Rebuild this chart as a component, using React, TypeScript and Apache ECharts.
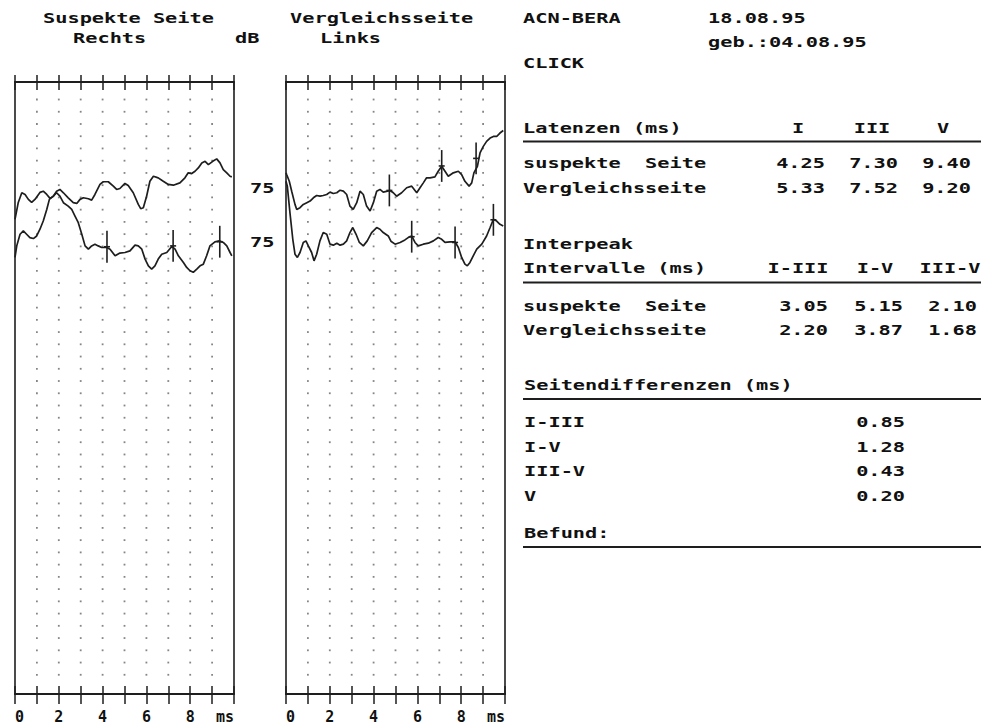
import React, { useEffect, useRef } from "react";
import * as echarts from "echarts";

// ---- Waveform data: [time ms, amplitude (divisions)] ----
const suspectUpper = [[0,38.78],[0.15,40.16],[0.31,40.95],[0.46,40.81],[0.61,40.41],[0.76,40.16],[0.91,40.41],[1.14,40.98],[1.29,41.08],[1.45,40.81],[1.60,40.49],[1.75,40.67],[1.90,41.08],[2.05,41.22],[2.21,40.95],[2.43,40.54],[2.66,40.14],[2.82,40.08],[2.97,40.41],[3.12,40.54],[3.35,40.46],[3.50,40.35],[3.65,40.81],[3.88,41.63],[4.03,41.85],[4.26,41.85],[4.49,41.49],[4.64,41.22],[4.79,41.30],[5.02,41.71],[5.17,41.54],[5.40,40.95],[5.63,40.00],[5.74,39.65],[5.86,39.73],[6.01,40.67],[6.16,41.89],[6.32,42.30],[6.54,42.17],[6.77,41.89],[7.00,41.63],[7.23,41.57],[7.53,41.76],[7.76,42.17],[7.91,42.58],[8.07,42.52],[8.22,42.71],[8.37,42.98],[8.53,43.39],[8.68,43.52],[8.83,43.25],[9.03,43.52],[9.21,43.72],[9.36,43.39],[9.51,42.85],[9.67,42.58],[9.82,42.30],[9.90,42.25]];
const suspectLower = [[0,35.67],[0.08,36.61],[0.23,37.56],[0.38,37.83],[0.53,37.56],[0.68,37.29],[0.84,37.21],[0.99,37.42],[1.14,37.97],[1.29,38.64],[1.45,39.59],[1.57,40.41],[1.75,40.67],[1.90,40.95],[2.05,40.67],[2.21,40.14],[2.43,39.86],[2.59,39.59],[2.74,39.05],[2.89,38.51],[3.05,37.56],[3.20,36.61],[3.35,36.34],[3.50,36.61],[3.65,36.75],[3.80,36.61],[3.96,36.48],[4.19,36.48],[4.34,36.34],[4.57,35.80],[4.79,36.02],[5.02,36.07],[5.25,36.20],[5.48,36.67],[5.63,36.61],[5.79,36.34],[5.94,35.53],[6.09,34.98],[6.24,34.72],[6.39,34.98],[6.54,35.53],[6.70,35.93],[6.93,36.07],[7.16,36.56],[7.31,36.34],[7.46,35.80],[7.69,35.26],[7.84,34.85],[7.99,34.58],[8.14,34.45],[8.30,34.72],[8.45,34.98],[8.60,35.12],[8.75,35.80],[8.90,36.61],[9.13,36.94],[9.33,37.02],[9.51,36.89],[9.67,36.61],[9.82,36.07],[9.90,35.80]];
const compareUpper = [[0,42.58],[0.03,42.44],[0.15,41.89],[0.26,41.08],[0.41,40.00],[0.49,39.59],[0.64,39.73],[0.79,40.00],[0.95,40.14],[1.10,40.27],[1.25,40.54],[1.40,40.73],[1.55,40.67],[1.70,40.73],[1.86,40.81],[2.01,41.00],[2.16,40.89],[2.32,40.95],[2.47,41.16],[2.62,41.08],[2.77,40.81],[2.92,39.86],[3.07,39.59],[3.23,40.14],[3.38,41.08],[3.53,40.81],[3.68,39.86],[3.84,39.46],[3.99,40.14],[4.14,41.08],[4.29,41.22],[4.44,41.00],[4.63,41.08],[4.75,41.14],[4.90,40.95],[5.05,40.67],[5.28,40.95],[5.51,41.36],[5.74,41.49],[5.97,40.95],[6.12,41.36],[6.27,41.76],[6.42,42.17],[6.58,42.17],[6.80,42.25],[6.95,42.71],[7.11,43.11],[7.26,42.71],[7.41,42.30],[7.64,42.58],[7.87,42.71],[8.02,42.44],[8.17,41.89],[8.36,41.49],[8.48,41.76],[8.58,42.58],[8.74,43.11],[8.86,44.20],[9.01,44.74],[9.16,45.15],[9.32,45.42],[9.47,45.55],[9.62,45.55],[9.77,45.83],[9.92,46.04]];
const compareLower = [[0,41.89],[0.06,41.49],[0.18,39.33],[0.31,37.15],[0.41,35.93],[0.52,35.67],[0.64,36.07],[0.79,36.89],[0.91,37.02],[1.02,36.61],[1.17,36.07],[1.28,35.39],[1.40,35.93],[1.55,37.02],[1.70,37.70],[1.86,37.56],[2.01,36.75],[2.16,36.67],[2.32,36.83],[2.47,36.67],[2.62,36.75],[2.77,37.02],[2.92,37.70],[3.05,38.11],[3.20,37.56],[3.35,36.89],[3.53,36.61],[3.71,37.02],[3.91,37.70],[4.14,38.11],[4.29,37.97],[4.44,37.70],[4.67,37.42],[4.79,36.99],[4.98,36.75],[5.21,36.89],[5.43,37.10],[5.58,37.29],[5.74,37.42],[5.89,36.89],[6.04,36.61],[6.27,36.75],[6.50,36.83],[6.73,37.02],[6.95,37.29],[7.11,37.15],[7.26,36.89],[7.49,36.94],[7.72,36.94],[7.87,36.48],[8.02,35.67],[8.17,35.12],[8.28,34.98],[8.40,35.26],[8.55,35.80],[8.71,36.34],[8.94,36.75],[9.16,37.42],[9.32,38.11],[9.47,38.78],[9.62,38.64],[9.77,38.37],[9.92,38.24]];

// Peak markers [ms, amplitude]
const suspectMarkers = [[4.20,36.54],[7.22,36.61],[9.35,36.95]];
const compareUpperMarkers = [[4.72,41.14],[7.11,43.14],[8.68,43.76]];
const compareLowerMarkers = [[5.74,37.36],[7.72,36.89],[9.47,38.74]];

// Axis tick labels (0..10 ms)
const timeTickLabels = ["0", "", "2", "", "4", "", "6", "", "8", "", "ms"];
const levelLabels = ["75", "75"];

// Table data
const latencyHeaders = ["I", "III", "V"];
const latencySuspect = [4.25, 7.30, 9.40];
const latencyCompare = [5.33, 7.52, 9.20];
const interpeakHeaders = ["I-III", "I-V", "III-V"];
const interpeakSuspect = [3.05, 5.15, 2.10];
const interpeakCompare = [2.20, 3.87, 1.68];
const diffLabels = ["I-III", "I-V", "III-V", "V"];
const diffValues = [0.85, 1.28, 0.43, 0.20];

const FONT = '"DejaVu Sans Mono", "Liberation Mono", monospace';
const INK = "#111";
const LINE = "#1e1e1e";

function txt(text: string, x: number, y: number, align: string = "left") {
  return {
    type: "text",
    x,
    y,
    scaleX: 1.45,
    silent: true,
    style: {
      text,
      fontFamily: FONT,
      fontSize: 14,
      fontWeight: "bold",
      fill: INK,
      align,
      textAlign: align,
      verticalAlign: "middle",
      textVerticalAlign: "middle",
    },
  };
}

function hline(x1: number, x2: number, y: number) {
  return {
    type: "line",
    silent: true,
    shape: { x1, y1: y, x2, y2: y },
    style: { stroke: LINE, lineWidth: 2 },
  };
}

function makeDots() {
  const pts: number[][] = [];
  for (let k = 0; k < 48; k++) {
    for (let c = 1; c <= 9; c++) pts.push([c, 1.57 + k]);
  }
  return pts;
}

function xAxes(gridIndex: number) {
  const base = {
    gridIndex,
    type: "value",
    min: 0,
    max: 10,
    interval: 1,
    splitLine: { show: false },
  };
  return [
    {
      ...base,
      position: "bottom",
      axisLine: { show: true, onZero: false, lineStyle: { color: LINE, width: 2 } },
      axisTick: { show: true, inside: true, length: 8, lineStyle: { color: LINE, width: 1.5 } },
      axisLabel: {
        show: true,
        margin: 15,
        fontFamily: FONT,
        fontSize: 15,
        fontWeight: "bold",
        color: INK,
        alignMinLabel: "left",
        alignMaxLabel: "right",
        formatter: (v: number) => timeTickLabels[Math.round(v)] ?? "",
      },
    },
    {
      ...base,
      position: "bottom",
      axisLine: { show: false },
      axisTick: { show: true, inside: false, length: 10, lineStyle: { color: LINE, width: 1.5 } },
      axisLabel: { show: false },
    },
    {
      ...base,
      position: "top",
      axisLine: { show: true, onZero: false, lineStyle: { color: LINE, width: 2 } },
      axisTick: { show: true, inside: true, length: 8, lineStyle: { color: LINE, width: 1.5 } },
      axisLabel: { show: false },
    },
    {
      ...base,
      position: "top",
      axisLine: { show: false },
      axisTick: { show: true, inside: false, length: 7, lineStyle: { color: LINE, width: 1.5 } },
      axisLabel: { show: false },
    },
  ];
}

function markerRender(params: any, api: any) {
  const x = api.value(0);
  const y = api.value(1);
  const top = api.coord([x, y + 1.3]);
  const bot = api.coord([x, y - 1.3]);
  const mid = api.coord([x, y]);
  return {
    type: "group",
    children: [
      { type: "line", shape: { x1: top[0], y1: top[1], x2: bot[0], y2: bot[1] }, style: { stroke: LINE, lineWidth: 1.6 } },
      { type: "line", shape: { x1: mid[0] - 3, y1: mid[1], x2: mid[0] + 3, y2: mid[1] }, style: { stroke: LINE, lineWidth: 1.6 } },
    ],
  };
}

function traceSeries(data: number[][], xi: number, yi: number) {
  return {
    type: "line",
    xAxisIndex: xi,
    yAxisIndex: yi,
    data,
    showSymbol: false,
    symbol: "none",
    smooth: false,
    lineStyle: { color: LINE, width: 1.7 },
    z: 3,
  };
}

function markerSeries(data: number[][], xi: number, yi: number) {
  return {
    type: "custom",
    xAxisIndex: xi,
    yAxisIndex: yi,
    data,
    renderItem: markerRender,
    z: 4,
  };
}

function dotSeries(xi: number, yi: number) {
  return {
    type: "scatter",
    xAxisIndex: xi,
    yAxisIndex: yi,
    data: makeDots(),
    symbol: "rect",
    symbolSize: 1.8,
    itemStyle: { color: "#666" },
    silent: true,
    z: 1,
  };
}

export default function App() {
  const ref = useRef<HTMLDivElement>(null);

  useEffect(() => {
    if (!ref.current) return;
    const chart = echarts.init(ref.current, null, { renderer: "svg" });

    const latCols = [825, 898, 971];
    const latHeadCols = [798, 872, 943];
    const ipCols = [828, 903, 977];
    const ipHeadCols = [798, 875, 950];

    const graphics: any[] = [
      txt("Suspekte Seite", 43, 18),
      txt("Rechts", 73, 38),
      txt("dB", 235, 38),
      txt("Vergleichsseite", 290, 18),
      txt("Links", 320, 38),
      txt(levelLabels[0], 250, 188),
      txt(levelLabels[1], 250, 242),
      txt("ACN-BERA", 523, 18),
      txt("18.08.95", 708, 18),
      txt("geb.:04.08.95", 708, 42),
      txt("CLICK", 523, 63),
      txt("Latenzen (ms)", 523, 128),
      hline(523, 981, 141.5),
      txt("suspekte  Seite", 523, 163),
      txt("Vergleichsseite", 523, 188),
      txt("Interpeak", 523, 244),
      txt("Intervalle (ms)", 523, 268),
      hline(523, 981, 282.5),
      txt("suspekte  Seite", 523, 306),
      txt("Vergleichsseite", 523, 330),
      txt("Seitendifferenzen (ms)", 524, 385),
      hline(523, 981, 399),
      txt("Befund:", 524, 533),
      hline(523, 981, 547),
    ];
    latencyHeaders.forEach((h, i) => graphics.push(txt(h, latHeadCols[i], 128, "center")));
    latencySuspect.forEach((v, i) => graphics.push(txt(v.toFixed(2), latCols[i], 163, "right")));
    latencyCompare.forEach((v, i) => graphics.push(txt(v.toFixed(2), latCols[i], 188, "right")));
    interpeakHeaders.forEach((h, i) => graphics.push(txt(h, ipHeadCols[i], 268, "center")));
    interpeakSuspect.forEach((v, i) => graphics.push(txt(v.toFixed(2), ipCols[i], 306, "right")));
    interpeakCompare.forEach((v, i) => graphics.push(txt(v.toFixed(2), ipCols[i], 330, "right")));
    diffLabels.forEach((l, i) => graphics.push(txt(l, 524, 422 + i * 24.7)));
    diffValues.forEach((v, i) => graphics.push(txt(v.toFixed(2), 905, 422 + i * 24.7, "right")));

    chart.setOption({
      animation: false,
      backgroundColor: "#ffffff",
      grid: [
        { left: 15, top: 82, width: 219, height: 615, show: true, borderColor: LINE, borderWidth: 1.6, backgroundColor: "transparent" },
        { left: 286, top: 82, width: 219, height: 615, show: true, borderColor: LINE, borderWidth: 1.6, backgroundColor: "transparent" },
      ],
      xAxis: [...xAxes(0), ...xAxes(1)],
      yAxis: [
        { gridIndex: 0, type: "value", min: 0, max: 50, show: false },
        { gridIndex: 1, type: "value", min: 0, max: 50, show: false },
      ],
      series: [
        dotSeries(0, 0),
        dotSeries(4, 1),
        traceSeries(suspectUpper, 0, 0),
        traceSeries(suspectLower, 0, 0),
        traceSeries(compareUpper, 4, 1),
        traceSeries(compareLower, 4, 1),
        markerSeries(suspectMarkers, 0, 0),
        markerSeries(compareUpperMarkers, 4, 1),
        markerSeries(compareLowerMarkers, 4, 1),
      ],
      graphic: graphics,
    });

    return () => chart.dispose();
  }, []);

  return (
    <div
      ref={ref}
      style={{ position: "fixed", left: 0, top: 0, width: 981, height: 724, background: "#fff" }}
    />
  );
}
